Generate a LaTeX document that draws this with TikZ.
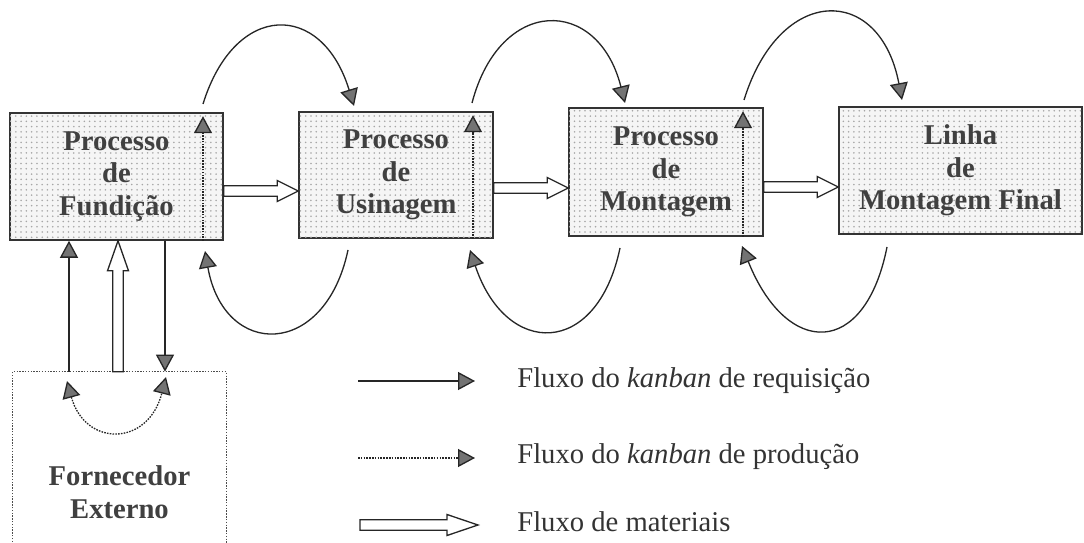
\documentclass[tikz,border=0pt]{standalone}
\usepackage{fontspec}
\setmainfont{Liberation Serif}
\usetikzlibrary{arrows.meta,calc,patterns}

\begin{document}
\begin{tikzpicture}[x=0.02cm,y=-0.02cm,
  kt/.tip={Triangle[length=0.34cm,width=0.36cm,fill=black!55]},
  box/.style={draw=black!80, line width=0.9pt, fill=black!4,
    postaction={pattern=dots, pattern color=black!35},
    rectangle, inner sep=0pt, align=center, text=black!75,
    font=\bfseries\fontsize{16.3}{18.5}\selectfont},
  supplier/.style={inner sep=0pt, align=center, text=black!75,
    font=\bfseries\fontsize{16.3}{18.5}\selectfont},
  frame/.style={draw=black!70, line width=0.8pt, dash pattern=on 0.8pt off 0.8pt},
  req/.style={draw=black!85, line width=0.75pt, -kt},
  prod/.style={req, dash pattern=on 0.9pt off 0.7pt},
  matflow/.style={draw=black!85, fill=white, line width=0.75pt, line join=miter,
    to path={
      let \p1=(\tikztostart), \p2=(\tikztotarget), \p3=($(\p2)!#1!(\p1)$) in
      ($(\p1)!0.105cm!90:(\p2)$) -- ($(\p3)!0.105cm!90:(\p2)$)
      -- ($(\p3)!0.21cm!90:(\p2)$) -- (\p2)
      -- ($(\p3)!0.21cm!-90:(\p2)$) -- ($(\p3)!0.105cm!-90:(\p2)$)
      -- ($(\p1)!0.105cm!-90:(\p2)$) -- cycle}},
  matflow/.default=0.42cm,
  legend/.style={anchor=base west, inner sep=0pt, text=black!80,
    font=\fontsize{16.3}{18.5}\selectfont}
]
\useasboundingbox (0,0) rectangle (1084,543);

% process boxes
\node[box, minimum width=4.26cm, minimum height=2.54cm] (b1) at (116.5,176.5) {Processo\\de\\Fundição};
\node[box, minimum width=3.88cm, minimum height=2.52cm] (b2) at (396,175) {Processo\\de\\Usinagem};
\node[box, minimum width=3.88cm, minimum height=2.56cm] (b3) at (666,172) {Processo\\de\\Montagem};
\node[box, minimum width=4.86cm, minimum height=2.54cm] (b4) at (960.5,170.5) {Linha\\de\\Montagem Final};

% external supplier, frame open at the bottom
\node[supplier, minimum width=4.26cm, minimum height=4.8cm] (forn) at (119.5,492) {Fornecedor\\Externo};
\draw[frame] (forn.south west) -- (forn.north west) -- (forn.north east) -- (forn.south east);

% production kanban inside each process
\draw[prod, shorten >=0.08cm] (203,0 |- b1.south) -- (203,0 |- b1.north);
\draw[prod, shorten >=0.08cm] (473,0 |- b2.south) -- (473,0 |- b2.north);
\draw[prod, shorten >=0.08cm] (743,0 |- b3.south) -- (743,0 |- b3.north);

% material flow between processes
\draw[matflow] (b1.east |- 0,191) to (b2.west |- 0,191);
\draw[matflow] (b2.east |- 0,188) to (b3.west |- 0,188);
\draw[matflow] (b3.east |- 0,187) to (b4.west |- 0,187);

% requisition kanban loops, above
\coordinate (t1s) at (203,104); \coordinate (t1e) at (354,106);
\coordinate (t2s) at (472,103); \coordinate (t2e) at (625,103);
\coordinate (t3s) at (744,100); \coordinate (t3e) at (902,100);
\draw[req] (t1s) .. controls (235,1) and (322,1) .. (t1e);
\draw[req] (t2s) .. controls (500,-4) and (598,-4) .. (t2e);
\draw[req] (t3s) .. controls (780,-16) and (880,-16) .. (t3e);

% requisition kanban loops, below
\coordinate (u1s) at (348,250); \coordinate (u1e) at (205,251);
\coordinate (u2s) at (620,248); \coordinate (u2e) at (470,250);
\coordinate (u3s) at (887,247); \coordinate (u3e) at (742,246);
\draw[req] (u1s) .. controls (325,359) and (224,359) .. (u1e);
\draw[req] (u2s) .. controls (597,358) and (506,358) .. (u2e);
\draw[req] (u3s) .. controls (865,358) and (787,358) .. (u3e);

% links with the supplier
\draw[req] (69,0 |- forn.north) -- (69,0 |- b1.south);
\draw[matflow=0.6cm] (118,0 |- forn.north) to (118,0 |- b1.south);
\draw[req] (165,0 |- b1.south) -- (165,0 |- forn.north);
\coordinate (fa) at (67,381); \coordinate (fb) at (166,377);
\draw[prod, kt-kt] (fa) .. controls (85,447) and (148,447) .. (fb);

% legend
\coordinate (r1) at (358,381); \coordinate (r2) at (475,381);
\coordinate (p1) at (358,458); \coordinate (p2) at (475,458);
\coordinate (m1) at (360,525); \coordinate (m2) at (478,525);
\draw[req] (r1) -- (r2);
\draw[prod] (p1) -- (p2);
\draw[matflow=0.62cm] (m1) to (m2);
\node[legend] (lr) at (517,387) {Fluxo do \textit{kanban} de requisição};
\node[legend] (lp) at (517,463) {Fluxo do \textit{kanban} de produção};
\node[legend] (lm) at (517,531) {Fluxo de materiais};
\end{tikzpicture}
\end{document}
